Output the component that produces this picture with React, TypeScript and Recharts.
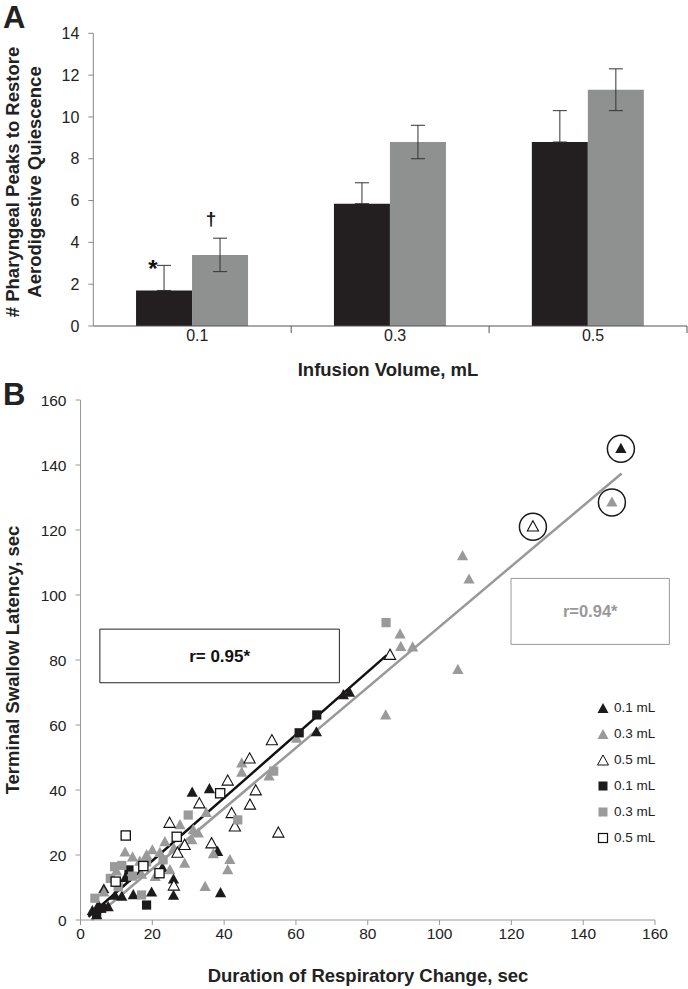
import React from 'react';
import {
  BarChart, Bar, XAxis, YAxis, ErrorBar, LabelList, Label,
  ScatterChart, Scatter, ReferenceLine, ReferenceArea, Legend,
} from 'recharts';

const FONT = '"Liberation Sans", Arial, sans-serif';

// ---------- Panel A data ----------
const volumes = ['0.1', '0.3', '0.5'];
const blackBarValues = [1.7, 5.85, 8.8];
const grayBarValues = [3.4, 8.8, 11.3];
const blackBarErrors = [1.2, 1.0, 1.5];
const grayBarErrors = [0.8, 0.8, 1.0];
const blackBarMarks = ['*', '', ''];
const grayBarMarks = ['\u2020', '', ''];
const barYTicks = [0, 2, 4, 6, 8, 10, 12, 14];

const barData = volumes.map((v, i) => ({
  volume: v,
  black: blackBarValues[i],
  gray: grayBarValues[i],
  blackErr: [0, blackBarErrors[i]],
  grayErr: grayBarErrors[i],
  blackMark: blackBarMarks[i],
  grayMark: grayBarMarks[i],
}));

// ---------- Panel B data ----------
const blackTriangles: [number, number][] = [
  [31.1, 39.2], [35.9, 40.3], [38.2, 21], [39, 8.3], [25.9, 12.5], [25.9, 7.5],
  [19.8, 8.5], [14.7, 7.7], [11.5, 7.2], [9.6, 7.5], [6.5, 9.5], [7.7, 4],
  [3.3, 2.8], [4.5, 1.5], [22.8, 16], [65.7, 57.8], [73.2, 69.2], [74.9, 70],
  [150.5, 145], [5, 4.5], [12.5, 13],
];
const grayTriangles: [number, number][] = [
  [44.9, 48.2], [44.9, 45.4], [52.5, 44.2], [60.2, 55.8], [35, 33], [27.7, 29.2],
  [31.4, 27.7], [31, 24.6], [23.5, 24], [37, 20.3], [41.6, 18.5], [41, 15.4],
  [34.7, 10.2], [29, 17.4], [24.9, 15.4], [20.8, 13.3], [12.4, 20.8], [14.5, 19.3],
  [16.5, 18], [18.4, 20], [20, 21.5], [22.1, 20.7], [6.5, 8.5], [85, 63],
  [89, 87.9], [89.2, 84.1], [92.5, 83.9], [106.4, 112], [108.2, 104.8], [105.1, 77],
  [148, 128.5], [32.8, 26.7], [26, 22], [17, 14], [10, 15],
];
const openTriangles: [number, number][] = [
  [53.3, 55.2], [47.1, 49.6], [41, 42.8], [48.8, 39.8], [33.1, 35.8], [47.2, 35.4],
  [42.1, 32.8], [43, 28.7], [24.8, 29.8], [27, 20.6], [55.1, 26.8], [36.5, 23.5],
  [26, 10.5], [86.2, 81.5], [126, 121], [29, 23],
];
const blackSquares: [number, number][] = [
  [13.5, 15.4], [18.4, 4.6], [5.9, 3.6], [60.9, 57.6], [65.8, 63.1], [4.5, 2],
];
const graySquares: [number, number][] = [
  [30, 32.3], [43.8, 30.8], [53.8, 45.8], [85.1, 91.5], [11.5, 16.8], [18.4, 17.9],
  [8.3, 12.8], [10.5, 10.2], [4, 6.7], [17, 7.7], [9.5, 16.4], [14.5, 13.5], [23, 18.5],
];
const openSquares: [number, number][] = [
  [12.6, 26], [26.8, 25.6], [38.9, 39], [17.5, 16.6], [22, 14.4], [9.8, 11.8],
];
const circledPoints: [number, number][] = [[150.5, 145], [148, 128.5], [126, 121]];
const fitBlack: [number, number][] = [[2.2, 1], [85.3, 81.5]];
const fitGray: [number, number][] = [[3.1, 0], [150.7, 137.4]];
const scatterTicks = [0, 20, 40, 60, 80, 100, 120, 140, 160];
const legendLabels = ['0.1 mL', '0.3 mL', '0.5 mL', '0.1 mL', '0.3 mL', '0.5 mL'];
const rBlackText = 'r= 0.95*';
const rGrayText = 'r=0.94*';

const toPts = (a: [number, number][]) => a.map(([x, y]) => ({ x, y }));

const BLACK = '#1c1a1a';
const GRAY = '#9a9a9a';
const TITLE_SIZE = 18.5;

// ---------- shapes ----------
const makeTri = (fill: string, stroke: string) => (props: any) => {
  const { cx, cy } = props;
  if (cx == null || cy == null) return <g />;
  return (
    <path
      d={`M${cx},${cy - 6}L${cx + 5.6},${cy + 4.2}L${cx - 5.6},${cy + 4.2}Z`}
      fill={fill}
      stroke={stroke}
      strokeWidth={stroke === 'none' ? 0 : 1.1}
    />
  );
};
const makeSq = (fill: string, stroke: string) => (props: any) => {
  const { cx, cy } = props;
  if (cx == null || cy == null) return <g />;
  return (
    <rect
      x={cx - 4.6}
      y={cy - 4.6}
      width={9.2}
      height={9.2}
      fill={fill}
      stroke={stroke}
      strokeWidth={stroke === 'none' ? 0 : 1.3}
    />
  );
};
const ringShape = (props: any) => {
  const { cx, cy } = props;
  if (cx == null || cy == null) return <g />;
  return <circle cx={cx} cy={cy} r={13.5} fill="none" stroke="#1a1a1a" strokeWidth={1.5} />;
};

const seriesDefs = [
  { data: blackTriangles, shape: makeTri(BLACK, 'none'), kind: 'tri', fill: BLACK, stroke: 'none' },
  { data: grayTriangles, shape: makeTri(GRAY, 'none'), kind: 'tri', fill: GRAY, stroke: 'none' },
  { data: openTriangles, shape: makeTri('#fff', '#111'), kind: 'tri', fill: '#fff', stroke: '#111' },
  { data: blackSquares, shape: makeSq(BLACK, 'none'), kind: 'sq', fill: BLACK, stroke: 'none' },
  { data: graySquares, shape: makeSq(GRAY, 'none'), kind: 'sq', fill: GRAY, stroke: 'none' },
  { data: openSquares, shape: makeSq('#fff', '#111'), kind: 'sq', fill: '#fff', stroke: '#111' },
];

// ---------- Panel A helpers ----------
const A_LEFT = 93.3;
const A_RIGHT = 687;
const BAND = (A_RIGHT - A_LEFT) / 3;

const BarXTick = (props: any) => {
  const { x, y, payload } = props;
  return (
    <g>
      <text x={x + 5} y={y + 15} textAnchor="middle" fontSize={16} fill="#222" fontFamily={FONT}>
        {payload.value}
      </text>
      <line x1={x + BAND / 2} x2={x + BAND / 2} y1={y} y2={y + 7} stroke="#555" strokeWidth={1} />
    </g>
  );
};

const makeMark = (values: number[], errors: number[], dx: number, dy: number, size: number) => (props: any) => {
  const { x, y, width, height, value, index } = props;
  if (!value) return null;
  const scale = height / values[index];
  const errTop = y - errors[index] * scale;
  return (
    <text
      x={x + width / 2 + dx}
      y={errTop + dy}
      textAnchor="middle"
      fontSize={size}
      fontWeight="bold"
      fill="#111"
      fontFamily={FONT}
    >
      {value}
    </text>
  );
};

const renderATitles = () => (
  <g fontFamily={FONT} fontWeight="bold" fill="#222">
    <text x={3} y={28} fontSize={31}>A</text>
    <text transform="translate(19,182) rotate(-90)" textAnchor="middle" fontSize={TITLE_SIZE}>
      # Pharyngeal Peaks to Restore
    </text>
    <text transform="translate(41,182) rotate(-90)" textAnchor="middle" fontSize={TITLE_SIZE}>
      Aerodigestive Quiescence
    </text>
  </g>
);

const renderAXTitle = () => (
  <text x={388} y={376} textAnchor="middle" fontSize={TITLE_SIZE} fontWeight="bold" fill="#222" fontFamily={FONT}>
    Infusion Volume, mL
  </text>
);

// ---------- Panel B helpers ----------
const B_TOP = 365;

const renderBTitles = () => (
  <g fontFamily={FONT} fontWeight="bold" fill="#222">
    <text x={3} y={405 - B_TOP} fontSize={31}>B</text>
    <text transform={`translate(19,${660 - B_TOP}) rotate(-90)`} textAnchor="middle" fontSize={TITLE_SIZE}>
      Terminal Swallow Latency, sec
    </text>
  </g>
);

const renderBXTitle = () => (
  <text x={368} y={982 - B_TOP} textAnchor="middle" fontSize={TITLE_SIZE} fontWeight="bold" fill="#222" fontFamily={FONT}>
    Duration of Respiratory Change, sec
  </text>
);

const makeBoxLabel = (text: string, color: string, size: number) => (props: any) => {
  const vb = props.viewBox || {};
  const cx = vb.x + vb.width / 2;
  const cy = vb.y + vb.height / 2;
  return (
    <text x={cx} y={cy + 6} textAnchor="middle" fontSize={size} fontWeight="bold" fill={color} fontFamily={FONT}>
      {text}
    </text>
  );
};

const renderLegend = () => (
  <div style={{ fontFamily: FONT, fontSize: 13.5, color: '#222' }}>
    {seriesDefs.map((s, i) => (
      <div key={i} style={{ height: 26, display: 'flex', alignItems: 'center' }}>
        <svg width={14} height={14} style={{ marginRight: 4 }}>
          {s.kind === 'tri' ? (
            <path d="M7,2L12.5,12L1.5,12Z" fill={s.fill} stroke={s.stroke} strokeWidth={s.stroke === 'none' ? 0 : 1} />
          ) : (
            <rect x={2.5} y={2.5} width={9} height={9} fill={s.fill} stroke={s.stroke} strokeWidth={s.stroke === 'none' ? 0 : 1.2} />
          )}
        </svg>
        <span>{legendLabels[i]}</span>
      </div>
    ))}
  </div>
);

export default function App() {
  return (
    <div style={{ position: 'absolute', left: 0, top: 0, width: 688, height: 989, background: '#fff', overflow: 'hidden' }}>
      <div style={{ position: 'absolute', left: 0, top: 0 }}>
        <BarChart
          width={688}
          height={380}
          data={barData}
          margin={{ top: 33.3, right: 1, bottom: 24, left: 33.3 }}
          barCategoryGap="21.6%"
          barGap={0}
        >
          <XAxis
            dataKey="volume"
            height={30}
            tickSize={0}
            tickMargin={0}
            tickLine={false}
            tick={<BarXTick />}
            axisLine={{ stroke: '#555', strokeWidth: 1 }}
            interval={0}
          >
            <Label content={renderAXTitle} />
          </XAxis>
          <YAxis
            width={60}
            domain={[0, 14]}
            ticks={barYTicks}
            interval={0}
            tickSize={5}
            tickMargin={9}
            axisLine={{ stroke: '#888' }}
            tickLine={{ stroke: '#888' }}
            tick={{ fill: '#222', fontSize: 16, fontFamily: FONT }}
          >
            <Label content={renderATitles} />
          </YAxis>
          <Bar dataKey="black" fill="#231f20" isAnimationActive={false}>
            <ErrorBar dataKey="blackErr" width={7} stroke="#333" strokeWidth={1} direction="y" />
            <LabelList dataKey="blackMark" content={makeMark(blackBarValues, blackBarErrors, -11, 12, 24)} />
          </Bar>
          <Bar dataKey="gray" fill="#8f9090" isAnimationActive={false}>
            <ErrorBar dataKey="grayErr" width={7} stroke="#333" strokeWidth={1} direction="y" />
            <LabelList dataKey="grayMark" content={makeMark(grayBarValues, grayBarErrors, -9, -13, 19)} />
          </Bar>
        </BarChart>
      </div>

      <div style={{ position: 'absolute', left: 0, top: B_TOP }}>
        <ScatterChart width={688} height={624} margin={{ top: 35, right: 33, bottom: 39, left: 20.5 }}>
          <XAxis
            type="number"
            dataKey="x"
            domain={[0, 160]}
            ticks={scatterTicks}
            interval={0}
            height={30}
            tickSize={5}
            tickMargin={3}
            axisLine={{ stroke: '#999' }}
            tickLine={{ stroke: '#999' }}
            tick={{ fill: '#222', fontSize: 15.5, fontFamily: FONT }}
            allowDataOverflow
          >
            <Label content={renderBXTitle} />
          </XAxis>
          <YAxis
            type="number"
            dataKey="y"
            domain={[0, 160]}
            ticks={scatterTicks}
            interval={0}
            width={60}
            tickSize={5}
            tickMargin={9}
            axisLine={{ stroke: '#999' }}
            tickLine={{ stroke: '#999' }}
            tick={{ fill: '#222', fontSize: 15.5, fontFamily: FONT }}
            allowDataOverflow
          >
            <Label content={renderBTitles} />
          </YAxis>
          <ReferenceArea
            x1={5.4}
            x2={72.1}
            y1={73}
            y2={89.5}
            fill="#fff"
            fillOpacity={1}
            stroke="#222"
            strokeWidth={1}
            ifOverflow="visible"
            label={makeBoxLabel(rBlackText, '#111', 17)}
          />
          <ReferenceArea
            x1={119.9}
            x2={164}
            y1={84.8}
            y2={105.1}
            fill="#fff"
            fillOpacity={1}
            stroke="#999"
            strokeWidth={1}
            ifOverflow="visible"
            label={makeBoxLabel(rGrayText, '#999', 16.5)}
          />
          {seriesDefs.map((s, i) => (
            <Scatter
              key={i}
              name={legendLabels[i]}
              data={toPts(s.data)}
              shape={s.shape}
              isAnimationActive={false}
            />
          ))}
          <ReferenceLine
            segment={toPts(fitGray)}
            stroke="#999"
            strokeWidth={2.5}
            ifOverflow="visible"
          />
          <ReferenceLine
            segment={toPts(fitBlack)}
            stroke="#111"
            strokeWidth={2.5}
            ifOverflow="visible"
          />
          <Scatter data={toPts(circledPoints)} shape={ringShape} isAnimationActive={false} legendType="none" />
          <Legend
            layout="vertical"
            align="center"
            verticalAlign="middle"
            content={renderLegend}
            wrapperStyle={{ position: 'absolute', left: 596, top: 329.7, width: 90 }}
          />
        </ScatterChart>
      </div>
    </div>
  );
}
